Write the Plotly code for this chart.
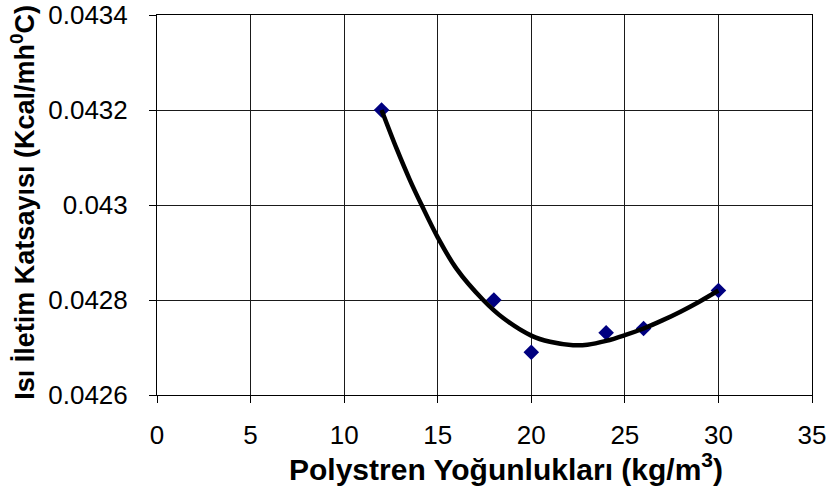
import plotly.graph_objects as go

# Measured data points
density = [12, 18, 20, 24, 26, 30]
conductivity = [0.04320, 0.04280, 0.04269, 0.042731, 0.04274, 0.04282]

# Trend curve
trend_x = [12, 12.81, 13.52, 14.14, 15, 16, 17.43, 18.5, 20, 21, 22.23, 23, 24, 25, 26, 27, 28, 29, 30]
trend_y = [0.04320, 0.043118, 0.043052, 0.04300, 0.042932, 0.042866, 0.04280, 0.042762,
           0.042725, 0.042712, 0.042705, 0.042706, 0.042714, 0.042726, 0.04274, 0.042757,
           0.042776, 0.042797, 0.04282]

x_ticks = [0, 5, 10, 15, 20, 25, 30, 35]
y_ticks = [0.0426, 0.0428, 0.043, 0.0432, 0.0434]
y_tick_labels = ["0.0426", "0.0428", "0.043", "0.0432", "0.0434"]

x_title = "<b>Polystren Yoğunlukları (kg/m<sup>3</sup>)</b>"
y_title = "<b>Isı İletim Katsayısı (Kcal/mh<sup>0</sup>C)</b>"

fig = go.Figure()
fig.add_trace(go.Scatter(x=density, y=conductivity, mode="markers",
                         marker=dict(symbol="diamond", size=12, color="#000080",
                                     line=dict(width=0)),
                         showlegend=False, cliponaxis=False))
fig.add_trace(go.Scatter(x=trend_x, y=trend_y, mode="lines",
                         line=dict(color="black", width=4.5, shape="spline", smoothing=1.0),
                         showlegend=False, cliponaxis=False))

font = "Liberation Sans, Arial, sans-serif"
axis_common = dict(showgrid=True, gridcolor="#1a1a1a", gridwidth=1,
                   showline=True, linecolor="black", linewidth=1, mirror=True,
                   ticks="outside", ticklen=7, tickcolor="black", tickwidth=1,
                   zeroline=False, automargin=False, ticklabeloverflow="allow",
                   tickfont=dict(size=26, family=font, color="black"))

fig.update_layout(
    template="none",
    width=828, height=502,
    margin=dict(l=157, r=16, t=15, b=107, pad=0),
    paper_bgcolor="white", plot_bgcolor="white",
    font=dict(family=font, color="black", size=26),
    xaxis=dict(range=[0, 35], tickvals=x_ticks, ticklabelstandoff=10, **axis_common),
    yaxis=dict(range=[0.0426, 0.0434], tickvals=y_ticks, ticktext=y_tick_labels,
               ticklabelstandoff=16, **axis_common),
    annotations=[
        dict(text=x_title, xref="paper", yref="paper", x=0.533, y=-0.19,
             xanchor="center", yanchor="middle", showarrow=False,
             font=dict(size=30, family=font, color="black")),
        dict(text=y_title, xref="paper", yref="paper", x=-0.205, y=0.508,
             xanchor="center", yanchor="middle", showarrow=False, textangle=-90,
             font=dict(size=27, family=font, color="black")),
    ],
)

fig.write_html("out.html", config={"displayModeBar": False},
               post_script="document.body.style.margin='0';document.body.style.overflow='hidden';")
